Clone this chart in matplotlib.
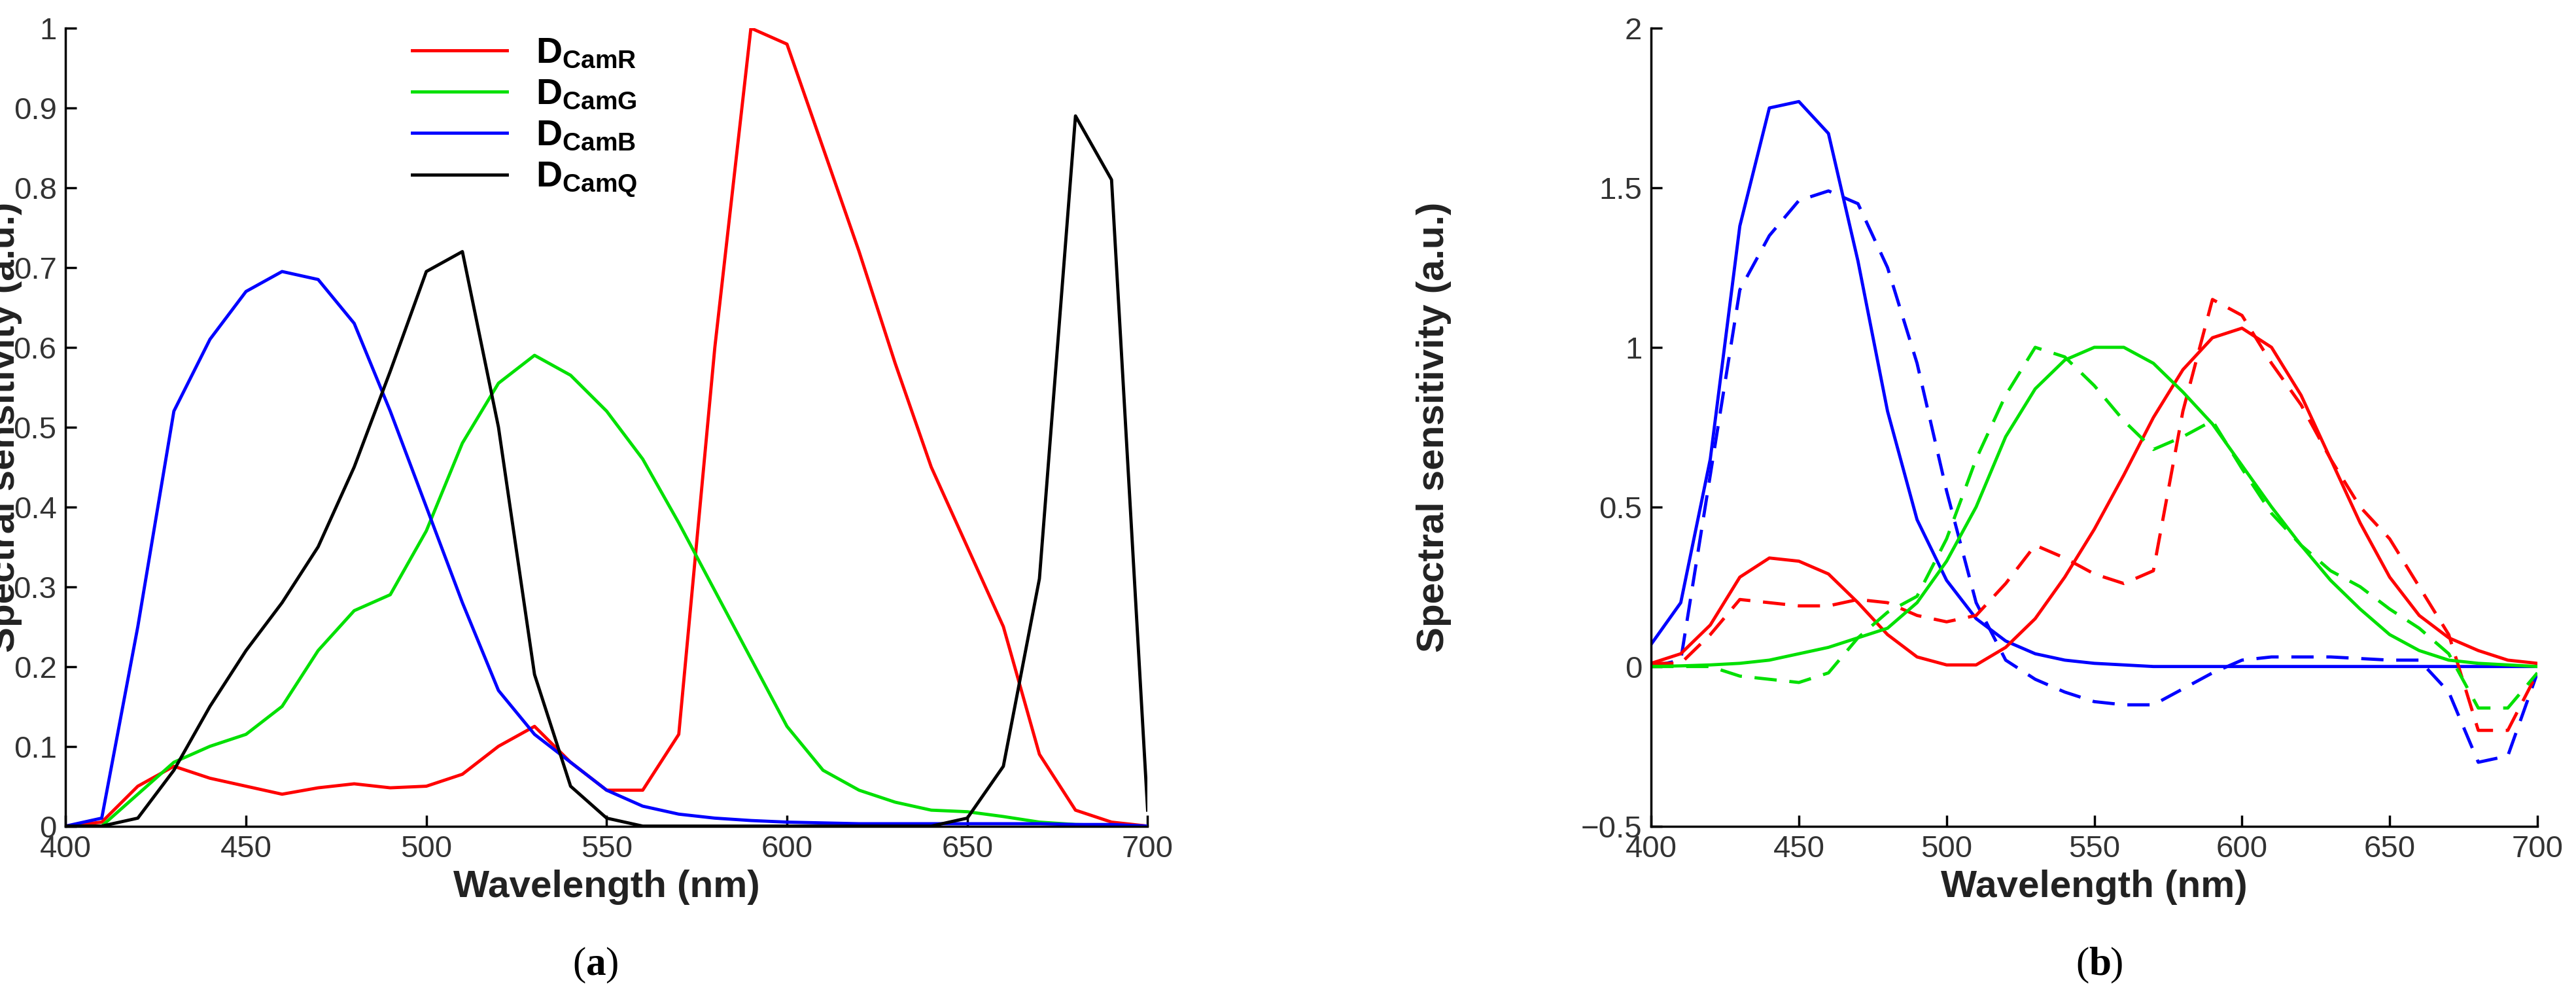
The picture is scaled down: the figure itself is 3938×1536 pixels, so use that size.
import numpy as np
import matplotlib
matplotlib.use("Agg")
import matplotlib.pyplot as plt

wl = list(range(400, 701, 10))

camR = [0,0.005,0.05,0.075,0.06,0.05,0.04,0.048,0.053,0.048,0.05,0.065,0.1,0.125,0.08,0.045,0.045,0.115,0.6,1.0,0.98,0.85,0.72,0.58,0.45,0.35,0.25,0.09,0.02,0.005,0]
camG = [0,0,0.04,0.08,0.1,0.115,0.15,0.22,0.27,0.29,0.37,0.48,0.555,0.59,0.565,0.52,0.46,0.38,0.295,0.21,0.125,0.07,0.045,0.03,0.02,0.018,0.012,0.005,0.002,0.001,0]
camB = [0,0.01,0.25,0.52,0.61,0.67,0.695,0.685,0.63,0.52,0.4,0.28,0.17,0.115,0.08,0.045,0.025,0.015,0.01,0.007,0.005,0.004,0.003,0.003,0.003,0.003,0.003,0.003,0.002,0.002,0]
camQ = [0,0,0.01,0.07,0.15,0.22,0.28,0.35,0.45,0.57,0.695,0.72,0.5,0.19,0.05,0.01,0,0,0,0,0,0,0,0,0,0.01,0.075,0.31,0.89,0.81,0.02]

solidR = [0.01,0.04,0.13,0.28,0.34,0.33,0.29,0.2,0.1,0.03,0.005,0.005,0.06,0.15,0.28,0.43,0.6,0.78,0.93,1.03,1.06,1.0,0.85,0.65,0.45,0.28,0.16,0.09,0.05,0.02,0.01]
solidG = [0,0.002,0.005,0.01,0.02,0.04,0.06,0.09,0.12,0.2,0.33,0.5,0.72,0.87,0.96,1.0,1.0,0.95,0.86,0.76,0.63,0.5,0.38,0.27,0.18,0.1,0.05,0.02,0.01,0.005,0]
solidB = [0.07,0.2,0.65,1.38,1.75,1.77,1.67,1.27,0.8,0.46,0.27,0.15,0.08,0.04,0.02,0.01,0.005,0,0,0,0,0,0,0,0,0,0,0,0,0,0]
dashR = [0.01,0.01,0.1,0.21,0.2,0.19,0.19,0.21,0.2,0.16,0.14,0.16,0.26,0.38,0.34,0.29,0.26,0.3,0.8,1.15,1.1,0.95,0.82,0.65,0.5,0.4,0.25,0.1,-0.2,-0.2,-0.02]
dashG = [0,0,0,-0.03,-0.04,-0.05,-0.02,0.09,0.17,0.22,0.4,0.65,0.85,1.0,0.97,0.88,0.77,0.68,0.72,0.77,0.62,0.48,0.38,0.3,0.25,0.18,0.12,0.04,-0.13,-0.13,-0.02]
dashB = [0,0.02,0.6,1.18,1.35,1.46,1.49,1.45,1.25,0.95,0.55,0.2,0.02,-0.04,-0.08,-0.11,-0.12,-0.12,-0.07,-0.02,0.02,0.03,0.03,0.03,0.025,0.02,0.02,-0.08,-0.3,-0.28,-0.02]

plt.rcParams["font.family"] = "Liberation Sans"
plt.rcParams["mathtext.fontset"] = "custom"
plt.rcParams["mathtext.bf"] = "Liberation Sans:bold"
plt.rcParams["mathtext.rm"] = "Liberation Sans"

fig = plt.figure(figsize=(39.38, 15.36), dpi=100)
axA = fig.add_axes([0.0255, 0.178, 0.42, 0.794])
axB = fig.add_axes([0.641, 0.178, 0.344, 0.794])

RED, GRN, BLU = "#ff0000", "#00e000", "#0000ff"
lw = 3.5
axA.plot(wl, camR, color=RED, lw=lw, label=r"$\mathbf{D_{CamR}}$")
axA.plot(wl, camG, color=GRN, lw=lw, label=r"$\mathbf{D_{CamG}}$")
axA.plot(wl, camB, color=BLU, lw=lw, label=r"$\mathbf{D_{CamB}}$")
axA.plot(wl, camQ, color="black", lw=lw, label=r"$\mathbf{D_{CamQ}}$")
axA.set_ylim(0, 1)
axA.set_yticks(np.arange(0, 1.01, 0.1))
axA.set_yticklabels(["0","0.1","0.2","0.3","0.4","0.5","0.6","0.7","0.8","0.9","1"])
axA.legend(loc="upper left", bbox_to_anchor=(0.29, 1.03), frameon=False,
           fontsize=40, handlelength=2.6, labelspacing=0.2)

for c, s, d in [(BLU, solidB, dashB), (RED, solidR, dashR), (GRN, solidG, dashG)]:
    axB.plot(wl, s, color=c, lw=lw)
    axB.plot(wl, d, color=c, lw=lw, dashes=(7, 4))
axB.set_ylim(-0.5, 2)
axB.set_yticks([-0.5, 0, 0.5, 1, 1.5, 2])
axB.set_yticklabels(["\u22120.5", "0", "0.5", "1", "1.5", "2"])

for ax in (axA, axB):
    ax.set_xlim(400, 700)
    ax.set_xticks(range(400, 701, 50))
    for s in ("top", "right"):
        ax.spines[s].set_visible(False)
    for s in ("left", "bottom"):
        ax.spines[s].set_linewidth(2.5)
    ax.tick_params(direction="in", length=12, width=2.5, labelsize=34, labelcolor="#333333", pad=10)
    ax.set_xlabel("Wavelength (nm)", fontsize=42, fontweight="bold", color="#222222", labelpad=6)
    ax.set_ylabel("Spectral sensitivity (a.u.)", fontsize=42, fontweight="bold", color="#222222")

axA.yaxis.set_label_coords(-0.040, 0.5)
axB.yaxis.set_label_coords(-0.225, 0.5)

fig.text(0.2275, 0.03, "(", fontsize=44, family="Liberation Serif", ha="right")
fig.text(0.2275, 0.03, "a", fontsize=44, family="Liberation Serif", fontweight="bold", ha="left")
fig.text(0.2350, 0.03, ")", fontsize=44, family="Liberation Serif", ha="left")
fig.text(0.811, 0.03, "(", fontsize=44, family="Liberation Serif", ha="right")
fig.text(0.811, 0.03, "b", fontsize=44, family="Liberation Serif", fontweight="bold", ha="left")
fig.text(0.819, 0.03, ")", fontsize=44, family="Liberation Serif", ha="left")

fig.savefig("out.png", dpi=100)
